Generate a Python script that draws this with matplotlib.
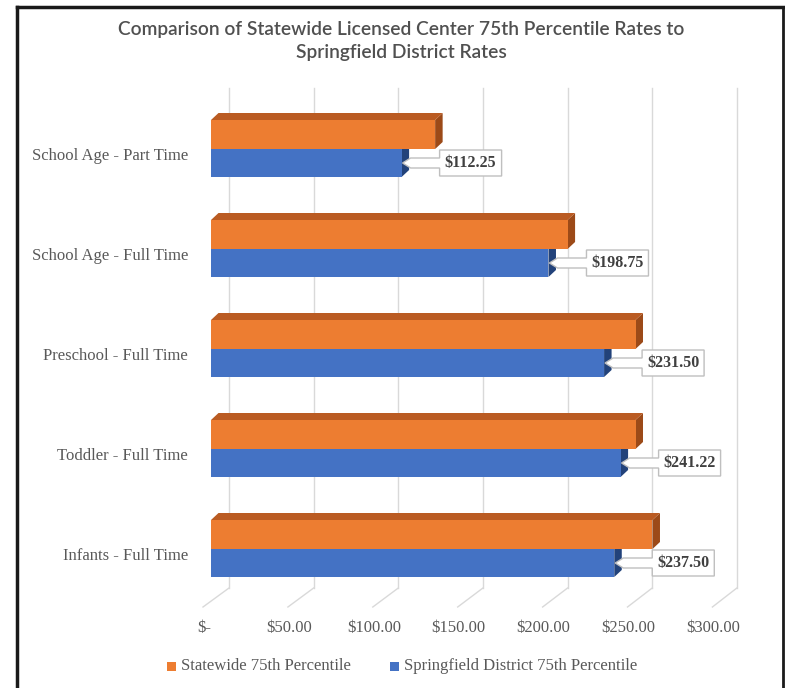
import matplotlib
matplotlib.use("Agg")
import matplotlib.pyplot as plt
from matplotlib.patches import Polygon, Rectangle
from matplotlib.lines import Line2D

# ---- data ----
categories = ["School Age - Part Time", "School Age - Full Time",
              "Preschool - Full Time", "Toddler - Full Time", "Infants - Full Time"]
statewide = [132.0, 210.0, 250.0, 250.0, 260.0]
springfield = [112.25, 198.75, 231.50, 241.22, 237.50]
tick_values = [0, 50, 100, 150, 200, 250, 300]
tick_labels = ["$-", "$50.00", "$100.00", "$150.00", "$200.00", "$250.00", "$300.00"]
series_names = ["Statewide 75th Percentile", "Springfield District 75th Percentile"]
title = "Comparison of Statewide Licensed Center 75th Percentile Rates to\nSpringfield District Rates"

# ---- styling ----
W, H = 785, 688
PXX = 1.698          # pixels per dollar
X0 = 211             # pixel of $0 on bar front face
ROW0 = 149           # pixel y of first row centre
ROWPX = 100          # pixels per row

OR_FRONT = "#ED7D31"; OR_TOP = "#BA5B22"; OR_SIDE = "#9C4A18"
BL_FRONT = "#4472C4"; BL_SIDE = "#22427A"
GRID = "#D9D9D9"; TXT = "#595959"; LBL = "#404040"
SERIF = ["Liberation Serif", "DejaVu Serif"]
FS = 12

fig = plt.figure(figsize=(W / 100, H / 100), dpi=100)
ax = fig.add_axes([0, 0, 1, 1])
ax.axis("off")
n = len(categories)
ax.set_xlim(-X0 / PXX, (W - X0) / PXX)
ax.set_ylim((n - 1) - (H - ROW0) / ROWPX, (n - 1) + ROW0 / ROWPX)

def ux(px):
    return px / PXX

def uy(px):
    return px / ROWPX

def ypix(p):
    return (n - 1) + (ROW0 - p) / ROWPX

# gridlines (back wall + floor)
back_off = ux(229 - X0)
front_off = ux(203 - X0)
for v, lab in zip(tick_values, tick_labels):
    xb = v * 0.997 + back_off
    xf = v + front_off
    ax.plot([xb, xb], [ypix(88), ypix(588)], color=GRID, lw=1, zorder=1)
    ax.plot([xb, xf], [ypix(588), ypix(607)], color=GRID, lw=1, zorder=1)
    ax.text(xf + ux(1), ypix(628), lab, ha="center", va="center",
            fontsize=FS, color=TXT, family=SERIF)

dx = ux(7.5)
dy = uy(7)
ho = uy(29)   # orange height
hb = uy(28)   # blue height

for r, (cat, so, sb) in enumerate(zip(categories, statewide, springfield)):
    yc = (n - 1) - r
    # blue side face
    ax.add_patch(Polygon([(sb, yc - hb), (sb + dx, yc - hb + dy), (sb + dx, yc + dy), (sb, yc)],
                         closed=True, fc=BL_SIDE, ec="none", zorder=2))
    # blue front
    ax.add_patch(Rectangle((0, yc - hb), sb, hb, fc=BL_FRONT, ec="none", zorder=3))
    # orange side face
    ax.add_patch(Polygon([(so, yc), (so + dx, yc + dy), (so + dx, yc + ho + dy), (so, yc + ho)],
                         closed=True, fc=OR_SIDE, ec="none", zorder=2))
    # orange top face
    ax.add_patch(Polygon([(0, yc + ho), (dx, yc + ho + dy), (so + dx, yc + ho + dy), (so, yc + ho)],
                         closed=True, fc=OR_TOP, ec="none", zorder=2))
    # orange front
    ax.add_patch(Rectangle((0, yc), so, ho, fc=OR_FRONT, ec="none", zorder=4))
    # category label
    ax.text(ux(188 - X0), yc - uy(7), cat, ha="right", va="center",
            fontsize=FS, color=TXT, family=SERIF)
    # callout for springfield value
    ym = yc - hb / 2
    bl = sb + ux(38)
    br = bl + ux(62)
    bt = ym + uy(13)
    bb = ym - uy(13)
    pw = uy(5)
    tip = sb + ux(1)
    ax.add_patch(Polygon([(bl, bt), (br, bt), (br, bb), (bl, bb), (bl, ym - pw),
                          (tip + ux(8), ym - pw), (tip, ym), (tip + ux(8), ym + pw),
                          (bl, ym + pw)],
                         closed=True, fc="white", ec="#BFBFBF", lw=1, zorder=6))
    ax.text((bl + br) / 2, ym, f"${sb:,.2f}", ha="center", va="center",
            fontsize=11.5, fontweight="bold", color=LBL, family=SERIF, zorder=7)

# title
fig.text(401 / W, 1 - 41 / H, title, ha="center", va="center", fontsize=13.8,
         color="#505050", family=["Lato", "DejaVu Sans"], fontweight="semibold", linespacing=1.45)

# legend
ly = 1 - 666 / H
for sx, tx, col, name in [(167, 181, OR_FRONT, series_names[0]), (390, 404, BL_FRONT, series_names[1])]:
    fig.patches.append(Rectangle((sx / W, ly - 4.5 / H), 9 / W, 9 / H, transform=fig.transFigure,
                                 fc=col, ec="none"))
    fig.text(tx / W, ly, name, ha="left", va="center", fontsize=FS, color=TXT, family=SERIF)

# outer frame
fig.lines.append(Line2D([17 / W, 17 / W], [0, 1 - 7 / H], transform=fig.transFigure, color="#1A1A1A", lw=2.5))
fig.lines.append(Line2D([17 / W, 783 / W], [1 - 7 / H, 1 - 7 / H], transform=fig.transFigure, color="#1A1A1A", lw=2.5))
fig.lines.append(Line2D([783 / W, 783 / W], [0, 1 - 7 / H], transform=fig.transFigure, color="#1A1A1A", lw=2))

fig.savefig("out.png", dpi=100, facecolor="white")
